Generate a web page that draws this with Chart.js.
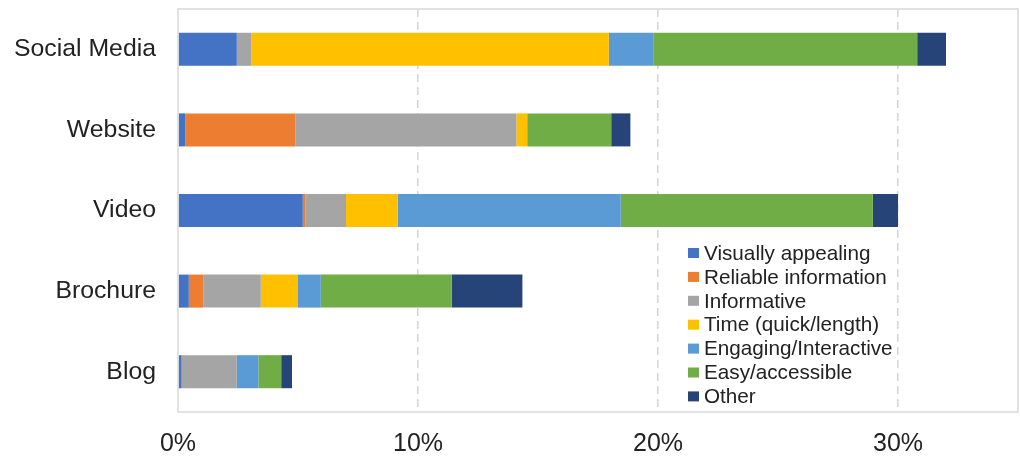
<!DOCTYPE html>
<html>
<head>
<title>Preferred format</title>
<script src="https://cdn.jsdelivr.net/npm/chart.js"></script>
<style>
  html, body { margin: 0; padding: 0; background: #fff; }
  #wrap { width: 1020px; height: 457px; }
</style>
</head>
<body>
<div id="wrap"><canvas id="chart" width="1020" height="457"></canvas></div>

<script>
// categories, top to bottom
const categories = ['Social Media', 'Website', 'Video', 'Brochure', 'Blog'];

// share of respondents (%) per reason, same order as categories
const visuallyAppealing = [2.45, 0.3, 5.2, 0.45, 0.15];
const reliableInfo      = [0, 4.6, 0.1, 0.6, 0];
const informative       = [0.6, 9.2, 1.7, 2.4, 2.3];
const timeQuick         = [14.9, 0.45, 2.15, 1.55, 0];
const engaging          = [1.85, 0, 9.3, 0.95, 0.9];
const easyAccessible    = [11.0, 3.5, 10.5, 5.45, 0.95];
const other             = [1.2, 0.8, 1.05, 2.95, 0.45];

const seriesLabels = ['Visually appealing', 'Reliable information', 'Informative',
  'Time (quick/length)', 'Engaging/Interactive', 'Easy/accessible', 'Other'];
const seriesData = [visuallyAppealing, reliableInfo, informative, timeQuick,
  engaging, easyAccessible, other];
const seriesColors = ['#4472C4', '#ED7D31', '#A5A5A5', '#FFC000', '#5B9BD5', '#70AD47', '#264478'];

const xTicks = [0, 10, 20, 30];
const FONT = "'Liberation Sans', Arial, sans-serif";

// box round the plot area + legend inside it
const boxAndLegend = {
  id: 'boxAndLegend',
  afterDraw(chart) {
    const { ctx, chartArea: a } = chart;
    ctx.save();
    ctx.setLineDash([]);
    ctx.strokeStyle = '#d9d9d9';
    ctx.lineWidth = 1.5;
    ctx.strokeRect(a.left, a.top, a.right - a.left, a.bottom - a.top);

    ctx.font = '20.7px ' + FONT;
    ctx.textBaseline = 'middle';
    ctx.textAlign = 'left';
    chart.data.datasets.forEach((ds, i) => {
      const y = 253 + i * 23.9;
      ctx.fillStyle = ds.backgroundColor;
      ctx.fillRect(688, y - 5, 11, 10);
      ctx.fillStyle = '#222';
      ctx.fillText(ds.label, 704, y + 1);
    });
    ctx.restore();
  }
};

new Chart(document.getElementById('chart'), {
  type: 'bar',
  data: {
    labels: categories,
    datasets: seriesLabels.map((label, i) => ({
      label: label,
      data: seriesData[i],
      backgroundColor: seriesColors[i],
      borderWidth: 0,
      barPercentage: 0.41,
      categoryPercentage: 1
    }))
  },
  options: {
    indexAxis: 'y',
    responsive: false,
    animation: false,
    layout: { padding: { top: 9, right: 2, left: 0, bottom: 0 } },
    plugins: {
      legend: { display: false },
      tooltip: { enabled: false }
    },
    scales: {
      x: {
        stacked: true,
        min: 0,
        max: 35,
        afterBuildTicks: (scale) => { scale.ticks = xTicks.map(v => ({ value: v })); },
        afterFit: (scale) => { scale.height = 45; },
        ticks: {
          callback: (v) => v + '%',
          color: '#222',
          font: { family: FONT, size: 25 },
          padding: 17,
          maxRotation: 0
        },
        grid: {
          drawTicks: false,
          color: (c) => c.tick && c.tick.value === 0 ? 'rgba(0,0,0,0)' : '#d4d4d4',
          lineWidth: 1.5
        },
        border: { display: false, dash: [8, 5] }
      },
      y: {
        stacked: true,
        afterFit: (scale) => {
          scale.width = 178;
          scale.paddingTop = 0;
          scale.paddingBottom = 0;
        },
        ticks: {
          color: '#222',
          font: { family: FONT, size: 24.8 },
          padding: 22
        },
        grid: { display: false, drawTicks: false },
        border: { display: false }
      }
    }
  },
  plugins: [boxAndLegend]
});
</script>
</body>
</html>
